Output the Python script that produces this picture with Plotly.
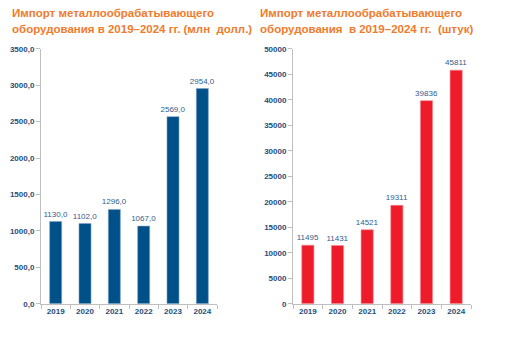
import plotly.graph_objects as go

years = ["2019", "2020", "2021", "2022", "2023", "2024"]
usd_mln = [1130.0, 1102.0, 1296.0, 1067.0, 2569.0, 2954.0]
units = [11495, 11431, 14521, 19311, 39836, 45811]
left_ticks = [0, 500, 1000, 1500, 2000, 2500, 3000, 3500]
right_ticks = [0, 5000, 10000, 15000, 20000, 25000, 30000, 35000, 40000, 45000, 50000]
title_left = ["Импорт металлообрабатывающего", "оборудования в 2019–2024 гг. (млн  долл.)"]
title_right = ["Импорт металлообрабатывающего", "оборудования  в 2019–2024 гг.  (штук)"]

W, H = 511, 340
FONT = "Liberation Sans"
TICKCOL = "#1F4E79"
LABCOL = "#2F5C8F"
AXCOL = "#BFBFBF"
TITLECOL = "#F07B2C"

def fmt1(v):
    return f"{v:.1f}".replace(".", ",")

fig = go.Figure()
fig.add_trace(go.Bar(
    x=years, y=usd_mln, xaxis="x", yaxis="y",
    marker=dict(color="#00508A", line=dict(color="#7FA3C4", width=0.6)),
    width=0.41,
    text=[fmt1(v) for v in usd_mln], textposition="outside", constraintext="none",
    textfont=dict(family=FONT, size=8, color=LABCOL),
    cliponaxis=False, showlegend=False,
))
fig.add_trace(go.Bar(
    x=years, y=units, xaxis="x2", yaxis="y2",
    marker=dict(color="#EE1C2B", line=dict(color="#F58A90", width=0.6)),
    width=0.41,
    text=[str(v) for v in units], textposition="outside", constraintext="none",
    textfont=dict(family=FONT, size=8, color=LABCOL),
    cliponaxis=False, showlegend=False,
))

ybot = (H - 308) / H
ytop = (H - 46) / H

def xaxis(dom, anchor):
    return dict(domain=dom, anchor=anchor, showgrid=False, zeroline=False,
                showline=True, linecolor=AXCOL, linewidth=1,
                ticks="outside", tickson="boundaries", ticklen=4, tickcolor=AXCOL,
                tickfont=dict(family=FONT, size=8, color=TICKCOL, weight="bold"),
                fixedrange=True)

def yaxis(dom, anchor, rng, tv, tt):
    return dict(domain=dom, anchor=anchor, range=rng, showgrid=False, zeroline=False,
                showline=True, linecolor=AXCOL, linewidth=1,
                ticks="outside", ticklen=4, tickcolor=AXCOL,
                tickvals=tv, ticktext=tt,
                tickfont=dict(family=FONT, size=8, color=TICKCOL, weight="bold"),
                fixedrange=True)

annotations = []
for x0, lines in ((10, title_left), (258, title_right)):
    for i, line in enumerate(lines):
        annotations.append(dict(
            text=line, xref="paper", yref="paper", x=x0 / W, y=1 - (9 + 17 * i) / H,
            xanchor="left", yanchor="middle", align="left", showarrow=False,
            font=dict(family=FONT, size=11.5, color=TITLECOL, weight="bold")))

fig.update_layout(
    width=W, height=H, margin=dict(l=0, r=0, t=0, b=0),
    paper_bgcolor="white", plot_bgcolor="white",
    xaxis=xaxis([41 / W, 217 / W], "y"),
    yaxis=yaxis([ybot, ytop], "x", [0, 3500], left_ticks, [fmt1(v) for v in left_ticks]),
    xaxis2=xaxis([293 / W, 471 / W], "y2"),
    yaxis2=yaxis([ybot, ytop], "x2", [0, 50000], right_ticks, [str(v) for v in right_ticks]),
    annotations=annotations,
)

fig.write_html("out.html")
